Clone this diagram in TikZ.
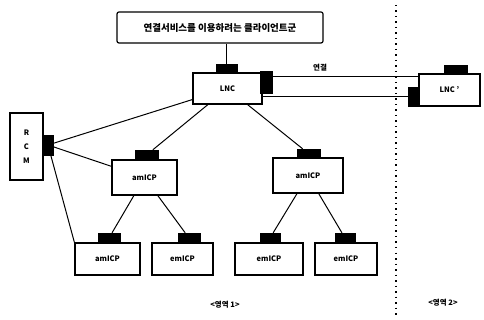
\documentclass[tikz,border=0pt]{standalone}
\usepackage{fontspec}
\setmainfont{Noto Sans CJK KR}
\usetikzlibrary{calc}

\tikzset{
  unit/.style={draw, line width=1.2pt, inner sep=0pt, font=\fontsize{7.5}{8}\selectfont\bfseries},
  port/.style={fill=black, draw=black, inner sep=0pt},
  link/.style={line width=1pt},
}

\begin{document}
\begin{tikzpicture}[x=1pt,y=-1pt]
\useasboundingbox (0,0) rectangle (484,320);

% client group
\node [unit, rounded corners=2pt, minimum width=206pt, minimum height=31pt, font=\fontsize{9.5}{10}\selectfont\bfseries] (client) at (220,27.5) {연결서비스를 이용하려는 클라이언트군};

% zone 1 : LNC
\node [unit, minimum width=69pt, minimum height=31pt] (lnc) at (227.5,88.5) {LNC};
\node [port, minimum width=21pt, minimum height=9pt] (lncT) at (226.5,68.5) {};
\node [port, minimum width=12pt, minimum height=22pt] (lncR) at (266,82) {};

% zone 2 : LNC'
\node [unit, minimum width=61pt, minimum height=32pt] (lncb) at (449.5,90) {LNC '};
\node [port, minimum width=23pt, minimum height=9pt] (lncbT) at (455.5,69.5) {};
\node [port, minimum width=11pt, minimum height=19pt] (lncbL) at (413.5,96.5) {};

% RCM
\node [unit, minimum width=33pt, minimum height=67pt, align=center, font=\fontsize{7.5}{14}\selectfont\bfseries] (rcm) at (26.5,146.5) {R\\C\\M};
\node [port, minimum width=10pt, minimum height=20pt] (rcmP) at (48,145) {};

% amICP
\node [unit, minimum width=65pt, minimum height=35pt] (midL) at (144.5,177.5) {amICP};
\node [port, minimum width=23pt, minimum height=10pt] (midLP) at (146.5,155) {};
\node [unit, minimum width=70pt, minimum height=35pt] (midR) at (308,175.5) {amICP};
\node [port, minimum width=23pt, minimum height=9pt] (midRP) at (308.5,153.5) {};

% emICP
\node [unit, minimum width=65pt, minimum height=32pt] (leafA) at (107.5,259) {amICP};
\node [port, minimum width=22pt, minimum height=10pt] (leafAP) at (109,238) {};
\node [unit, minimum width=61pt, minimum height=32pt] (leafB) at (182.5,259) {emICP};
\node [port, minimum width=22pt, minimum height=10pt] (leafBP) at (189,238) {};
\node [unit, minimum width=68pt, minimum height=32pt] (leafC) at (269,259) {emICP};
\node [port, minimum width=20pt, minimum height=10pt] (leafCP) at (270,238) {};
\node [unit, minimum width=62pt, minimum height=32pt] (leafD) at (346,259) {emICP};
\node [port, minimum width=20pt, minimum height=10pt] (leafDP) at (345,238) {};

% connections
\draw [link] (lncT.north) -- (lncT.north |- client.south);
\path ([yshift=-6pt]lncR.north east) coordinate (up);
\draw [link] (up) -- (up -| lncb.west);
\draw [link] (lnc.east |- lncbL.west) -- (lncbL.west);
\node [font=\fontsize{7.5}{8}\selectfont\bfseries] (linklbl) at (320,68) {연결};

\draw [link] (rcmP) -- (lnc);
\draw [link] (rcmP) -- (midL);
\draw [link] (rcmP) -- (leafA.north west);

\draw [link] (lnc) -- (midLP);
\draw [link] (lnc) -- (midRP);
\draw [link] (midL) -- (leafAP);
\draw [link] (midL) -- (leafBP);
\draw [link] (midR) -- (leafCP);
\draw [link] (midR) -- (leafDP);

% zone border
\draw [line width=1.4pt, dash pattern=on 1.5pt off 4pt] (396,5) -- (396,318);
\node [font=\fontsize{7.5}{8}\selectfont\bfseries] (zoneA) at (225,305) {<영역 1>};
\node [font=\fontsize{7.5}{8}\selectfont\bfseries] (zoneB) at (443,303) {<영역 2>};
\end{tikzpicture}
\end{document}
